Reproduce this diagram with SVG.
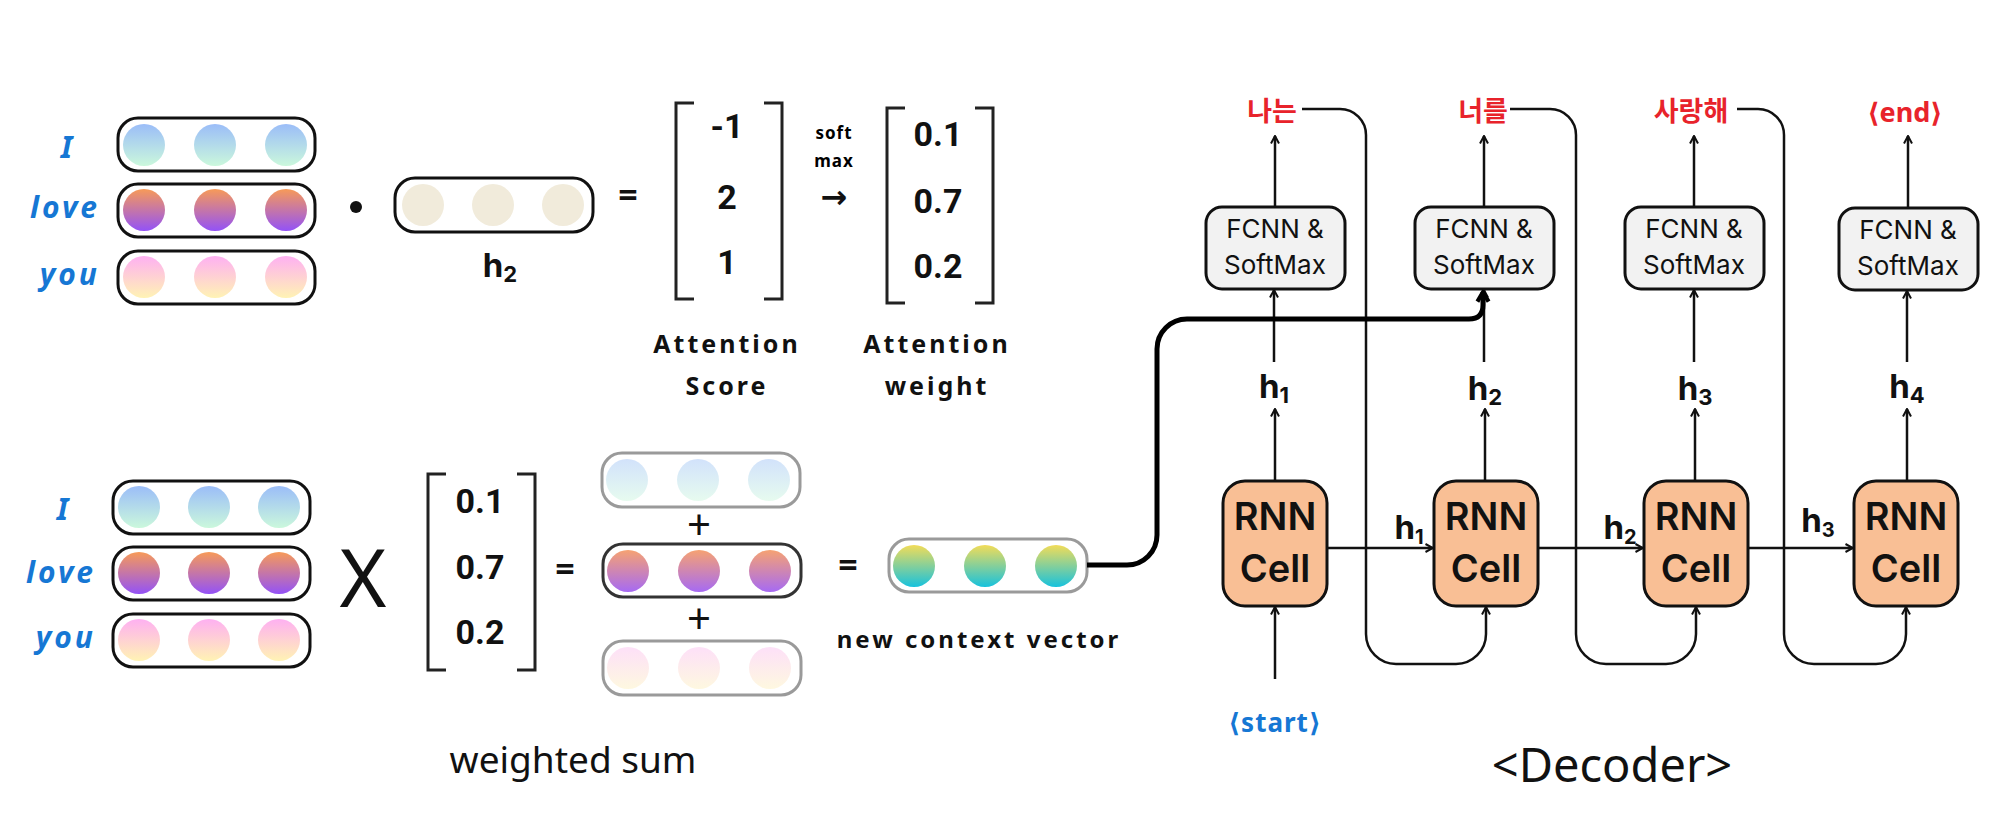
<svg xmlns="http://www.w3.org/2000/svg" width="2002" height="822" viewBox="0 0 2002 822">
<style>
.vb{fill:#fff;stroke:#111;stroke-width:3}
.vf{fill:#fff;stroke:#9a9a9a;stroke-width:3}
.vm{fill:#fff;stroke:#333;stroke-width:3}
.hand{font-family:"Noto Sans","DejaVu Sans",sans-serif;font-weight:700}
.lbl{font-size:30px;font-style:italic;letter-spacing:3px;fill:#1677d4}
.kr{font-family:"Noto Sans CJK KR","Noto Sans",sans-serif;font-weight:700;font-size:27px;fill:#e8232b;text-anchor:middle}
.num{font-family:Roboto,"Liberation Sans",sans-serif;font-weight:700;font-size:34px;text-anchor:middle;fill:#111}
.br{fill:none;stroke:#222;stroke-width:3}
.fc rect{fill:#f2f2f2;stroke:#111;stroke-width:3}
.fc text{font-family:Inter,"Liberation Sans",sans-serif;font-size:26px;text-anchor:middle;fill:#111}
.rn rect{fill:#f9bf95;stroke:#111;stroke-width:3}
.rn text{font-family:Inter,"Liberation Sans",sans-serif;font-size:38px;font-weight:600;text-anchor:middle;fill:#111}
.h{font-family:Inter,"Liberation Sans",sans-serif;font-weight:700;font-size:33px;fill:#111;text-anchor:middle}
.ln{fill:none;stroke:#111;stroke-width:2.5}
.thick{fill:none;stroke:#000;stroke-width:5}
.att{font-size:25px;letter-spacing:3px;text-anchor:middle;fill:#111}
.op{font-family:"Noto Sans","DejaVu Sans",sans-serif;text-anchor:middle;fill:#111}
</style>
<defs>
<linearGradient id="gI" x1="0" y1="0" x2="0" y2="1"><stop offset="0" stop-color="#9bbdf8"/><stop offset="1" stop-color="#cbf8dc"/></linearGradient>
<linearGradient id="gL" x1="0" y1="0" x2="0" y2="1"><stop offset="0" stop-color="#f79a58"/><stop offset="1" stop-color="#9352f7"/></linearGradient>
<linearGradient id="gY" x1="0" y1="0" x2="0" y2="1"><stop offset="0" stop-color="#feb0f2"/><stop offset="1" stop-color="#fff3b4"/></linearGradient>
<linearGradient id="gIf" x1="0" y1="0" x2="0" y2="1"><stop offset="0" stop-color="#d2e2fb"/><stop offset="1" stop-color="#e7fbef"/></linearGradient>
<linearGradient id="gLm" x1="0" y1="0" x2="0" y2="1"><stop offset="0" stop-color="#f6a272"/><stop offset="1" stop-color="#a66af3"/></linearGradient>
<linearGradient id="gYf" x1="0" y1="0" x2="0" y2="1"><stop offset="0" stop-color="#fde0f8"/><stop offset="1" stop-color="#fef8e0"/></linearGradient>
<linearGradient id="gC" x1="0" y1="0" x2="0" y2="1"><stop offset="0" stop-color="#f2dc58"/><stop offset="1" stop-color="#17c2dd"/></linearGradient>
<marker id="ah" viewBox="0 0 10 10" refX="9" refY="5" markerWidth="10" markerHeight="10" markerUnits="userSpaceOnUse" orient="auto"><path d="M1.5,1 L9,5 L1.5,9" fill="none" stroke="#111" stroke-width="2"/></marker>
<marker id="ahT" viewBox="0 0 10 10" refX="8" refY="5" markerWidth="16" markerHeight="16" markerUnits="userSpaceOnUse" orient="auto"><path d="M2,1.5 L8,5 L2,8.5" fill="none" stroke="#000" stroke-width="2.6" stroke-linejoin="round"/></marker>
</defs>

<g id="keys-top">
<text class="hand lbl" x="68" y="158" text-anchor="middle">I</text>
<text class="hand lbl" x="100" y="218" text-anchor="end">love</text>
<text class="hand lbl" x="100" y="285" text-anchor="end">you</text>
<rect class="vb" x="118" y="118" width="197" height="53" rx="20"/>
<circle cx="144" cy="145" r="21" fill="url(#gI)"/><circle cx="215" cy="145" r="21" fill="url(#gI)"/><circle cx="286" cy="145" r="21" fill="url(#gI)"/>
<rect class="vb" x="118" y="184" width="197" height="53" rx="20"/>
<circle cx="144" cy="210" r="21" fill="url(#gL)"/><circle cx="215" cy="210" r="21" fill="url(#gL)"/><circle cx="286" cy="210" r="21" fill="url(#gL)"/>
<rect class="vb" x="118" y="251" width="197" height="53" rx="20"/>
<circle cx="144" cy="277" r="21" fill="url(#gY)"/><circle cx="215" cy="277" r="21" fill="url(#gY)"/><circle cx="286" cy="277" r="21" fill="url(#gY)"/>
</g>
<g id="dot"><circle cx="356" cy="207" r="6" fill="#111"/></g>
<g id="query-h2">
<rect class="vb" x="395" y="178" width="198" height="54" rx="20"/>
<circle cx="423" cy="205" r="21" fill="#f1ebdb"/><circle cx="493" cy="205" r="21" fill="#f1ebdb"/><circle cx="563" cy="205" r="21" fill="#f1ebdb"/>
<text class="h" x="500" y="277">h<tspan font-size="22" dy="5">2</tspan></text>
</g>
<g id="score">
<text class="op" x="628" y="207" font-size="34" font-weight="700">=</text>
<path class="br" d="M694,103 H676 V299 H694 M764,103 H782 V299 H764"/>
<text class="num" x="727" y="138">-1</text>
<text class="num" x="727" y="209">2</text>
<text class="num" x="727" y="274">1</text>
<text class="hand att" x="727" y="353">Attention</text>
<text class="hand att" x="727" y="395">Score</text>
</g>
<g id="softmax">
<text class="hand" x="834" y="139" font-size="17" text-anchor="middle" letter-spacing="1">soft</text>
<text class="hand" x="834" y="167" font-size="17" text-anchor="middle" letter-spacing="1">max</text>
<text class="op" x="834" y="208" font-size="32" font-weight="700">→</text>
</g>
<g id="weight">
<path class="br" d="M905,108 H887 V303 H905 M975,108 H993 V303 H975"/>
<text class="num" x="938" y="146">0.1</text>
<text class="num" x="938" y="213">0.7</text>
<text class="num" x="938" y="278">0.2</text>
<text class="hand att" x="937" y="353">Attention</text>
<text class="hand att" x="937" y="395">weight</text>
</g>

<g id="keys-bottom">
<text class="hand lbl" x="64" y="520" text-anchor="middle">I</text>
<text class="hand lbl" x="96" y="583" text-anchor="end">love</text>
<text class="hand lbl" x="96" y="648" text-anchor="end">you</text>
<rect class="vb" x="113" y="481" width="197" height="53" rx="20"/>
<circle cx="139" cy="507" r="21" fill="url(#gI)"/><circle cx="209" cy="507" r="21" fill="url(#gI)"/><circle cx="279" cy="507" r="21" fill="url(#gI)"/>
<rect class="vb" x="113" y="547" width="197" height="53" rx="20"/>
<circle cx="139" cy="573" r="21" fill="url(#gL)"/><circle cx="209" cy="573" r="21" fill="url(#gL)"/><circle cx="279" cy="573" r="21" fill="url(#gL)"/>
<rect class="vb" x="113" y="614" width="197" height="53" rx="20"/>
<circle cx="139" cy="640" r="21" fill="url(#gY)"/><circle cx="209" cy="640" r="21" fill="url(#gY)"/><circle cx="279" cy="640" r="21" fill="url(#gY)"/>
</g>
<g id="times">
<text class="op" x="363" y="607" font-size="80">X</text>
</g>
<g id="weight-bottom">
<path class="br" d="M446,474 H428 V670 H446 M517,474 H535 V670 H517"/>
<text class="num" x="480" y="513">0.1</text>
<text class="num" x="480" y="579">0.7</text>
<text class="num" x="480" y="644">0.2</text>
</g>
<g id="weighted-sum">
<text class="op" x="565" y="581" font-size="34" font-weight="700">=</text>
<rect class="vf" x="602" y="453" width="198" height="54" rx="20"/>
<circle cx="627" cy="480" r="21" fill="url(#gIf)"/><circle cx="698" cy="480" r="21" fill="url(#gIf)"/><circle cx="769" cy="480" r="21" fill="url(#gIf)"/>
<text class="op" x="699" y="540" font-size="42">+</text>
<rect class="vm" x="603" y="544" width="198" height="53" rx="20"/>
<circle cx="628" cy="571" r="21" fill="url(#gLm)"/><circle cx="699" cy="571" r="21" fill="url(#gLm)"/><circle cx="770" cy="571" r="21" fill="url(#gLm)"/>
<text class="op" x="699" y="634" font-size="42">+</text>
<rect class="vf" x="603" y="641" width="198" height="54" rx="20"/>
<circle cx="628" cy="668" r="21" fill="url(#gYf)"/><circle cx="699" cy="668" r="21" fill="url(#gYf)"/><circle cx="770" cy="668" r="21" fill="url(#gYf)"/>
<text class="op" x="573" y="773" font-size="37">weighted sum</text>
</g>
<g id="context">
<text class="op" x="848" y="577" font-size="34" font-weight="700">=</text>
<rect class="vf" x="889" y="539" width="198" height="53" rx="20"/>
<circle cx="914" cy="566" r="21" fill="url(#gC)"/><circle cx="985" cy="566" r="21" fill="url(#gC)"/><circle cx="1056" cy="566" r="21" fill="url(#gC)"/>
<text class="hand" x="979" y="648" font-size="24" text-anchor="middle" letter-spacing="3" fill="#111">new context vector</text>
</g>

<g id="out1"><text class="kr" x="1272" y="121">나는</text></g>
<g id="out2"><text class="kr" x="1483" y="121">너를</text></g>
<g id="out3"><text class="kr" x="1691" y="121">사랑해</text></g>
<g id="out4"><text class="hand" x="1905" y="122" font-size="27" text-anchor="middle" fill="#e8232b">⟨end⟩</text></g>

<g id="fc1" class="fc"><rect x="1206" y="207" width="139" height="82" rx="16"/><text x="1275" y="238">FCNN &amp;</text><text x="1275" y="274">SoftMax</text></g>
<g id="fc2" class="fc"><rect x="1415" y="207" width="139" height="82" rx="16"/><text x="1484" y="238">FCNN &amp;</text><text x="1484" y="274">SoftMax</text></g>
<g id="fc3" class="fc"><rect x="1625" y="207" width="139" height="82" rx="16"/><text x="1694" y="238">FCNN &amp;</text><text x="1694" y="274">SoftMax</text></g>
<g id="fc4" class="fc"><rect x="1839" y="208" width="139" height="82" rx="16"/><text x="1908" y="239">FCNN &amp;</text><text x="1908" y="275">SoftMax</text></g>

<g id="hv1"><text class="h" x="1274" y="398">h<tspan font-size="22" dy="5">1</tspan></text></g>
<g id="hv2"><text class="h" x="1485" y="400">h<tspan font-size="22" dy="5">2</tspan></text></g>
<g id="hv3"><text class="h" x="1695" y="400">h<tspan font-size="22" dy="5">3</tspan></text></g>
<g id="hv4"><text class="h" x="1907" y="398">h<tspan font-size="22" dy="5">4</tspan></text></g>

<g id="rnn1" class="rn"><rect x="1223" y="481" width="104" height="125" rx="22"/><text x="1275" y="530">RNN</text><text x="1275" y="582">Cell</text></g>
<g id="rnn2" class="rn"><rect x="1434" y="481" width="104" height="125" rx="22"/><text x="1486" y="530">RNN</text><text x="1486" y="582">Cell</text></g>
<g id="rnn3" class="rn"><rect x="1644" y="481" width="104" height="125" rx="22"/><text x="1696" y="530">RNN</text><text x="1696" y="582">Cell</text></g>
<g id="rnn4" class="rn"><rect x="1854" y="481" width="104" height="125" rx="22"/><text x="1906" y="530">RNN</text><text x="1906" y="582">Cell</text></g>

<g id="start"><text class="hand" x="1275" y="732" font-size="26" text-anchor="middle" letter-spacing="1" fill="#1677d4">⟨start⟩</text></g>
<g id="title"><text class="op" x="1612" y="782" font-size="47">&lt;Decoder&gt;</text></g>

<g id="connectors">
<path class="ln" d="M1275,679 V607" marker-end="url(#ah)"/>
<path class="ln" d="M1275,481 V409" marker-end="url(#ah)"/>
<path class="ln" d="M1274,362 V290" marker-end="url(#ah)"/>
<path class="ln" d="M1275,207 V136" marker-end="url(#ah)"/>
<path class="ln" d="M1485,481 V409" marker-end="url(#ah)"/>
<path class="ln" d="M1484,362 V290" marker-end="url(#ah)"/>
<path class="ln" d="M1484,207 V136" marker-end="url(#ah)"/>
<path class="ln" d="M1695,481 V409" marker-end="url(#ah)"/>
<path class="ln" d="M1694,362 V290" marker-end="url(#ah)"/>
<path class="ln" d="M1694,207 V136" marker-end="url(#ah)"/>
<path class="ln" d="M1907,481 V409" marker-end="url(#ah)"/>
<path class="ln" d="M1907,362 V291" marker-end="url(#ah)"/>
<path class="ln" d="M1908,208 V136" marker-end="url(#ah)"/>
<path class="ln" d="M1327,548 H1433" marker-end="url(#ah)"/>
<path class="ln" d="M1538,548 H1643" marker-end="url(#ah)"/>
<path class="ln" d="M1748,548 H1853" marker-end="url(#ah)"/>
<path class="ln" d="M1302,109 H1340 A26,26 0 0 1 1366,135 V634 A30,30 0 0 0 1396,664 H1456 A30,30 0 0 0 1486,634 V607" marker-end="url(#ah)"/>
<path class="ln" d="M1510,109 H1550 A26,26 0 0 1 1576,135 V634 A30,30 0 0 0 1606,664 H1666 A30,30 0 0 0 1696,634 V607" marker-end="url(#ah)"/>
<path class="ln" d="M1737,109 H1758 A26,26 0 0 1 1784,135 V634 A30,30 0 0 0 1814,664 H1876 A30,30 0 0 0 1906,634 V607" marker-end="url(#ah)"/>
<path class="thick" d="M1087,565 H1127 A30,30 0 0 0 1157,535 V349 A30,30 0 0 1 1187,319 H1469 Q1483,319 1483,305 V292" marker-end="url(#ahT)"/>
<text class="h" x="1409" y="539" font-size="30">h<tspan font-size="20" dy="5">1</tspan></text>
<text class="h" x="1620" y="539" font-size="30">h<tspan font-size="20" dy="5">2</tspan></text>
<text class="h" x="1818" y="532" font-size="30">h<tspan font-size="20" dy="5">3</tspan></text>
</g>
</svg>
